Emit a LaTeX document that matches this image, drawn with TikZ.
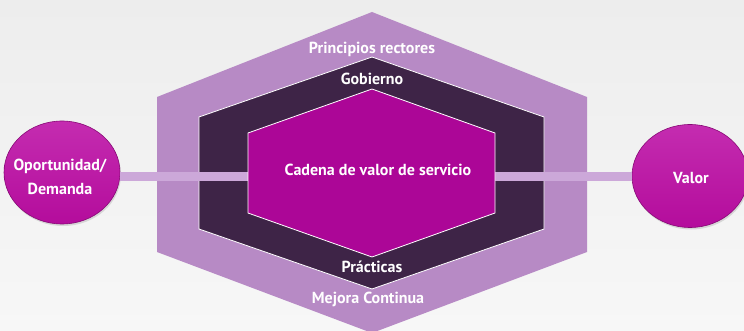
\documentclass[tikz,border=0pt]{standalone}
\usepackage{fontspec}
\setmainfont{PT Sans}
\usetikzlibrary{shadows,shapes.geometric}
\definecolor{bgtop}{HTML}{EDEDED}
\definecolor{bgbot}{HTML}{F7F7F7}
\definecolor{outerc}{HTML}{B78AC5}
\definecolor{midc}{HTML}{3E2447}
\definecolor{innerc}{HTML}{AC0697}
\definecolor{linkc}{HTML}{CCA8D9}
\definecolor{balltop}{HTML}{C42CB0}
\definecolor{ballbot}{HTML}{B40C9C}
\tikzset{
  lbl/.style={text=white, font=\bfseries\fontsize{16}{18}\selectfont, inner sep=0pt},
  ball/.style={ellipse, minimum width=116pt, minimum height=103pt, inner sep=0pt,
    top color=balltop, bottom color=ballbot, draw=ballbot!75!black, line width=0.6pt,
    drop shadow={opacity=0.25, shadow xshift=1pt, shadow yshift=-2pt}},
  balltext/.style={text=white, align=center, inner sep=0pt,
    font=\bfseries\fontsize{16}{24}\selectfont},
  link/.style={draw=linkc, line width=9pt},
  hexedge/.style={draw=white, line width=0.8pt},
}
\begin{document}
\begin{tikzpicture}[x=1pt,y=-1pt]
\useasboundingbox (0,0) rectangle (744,331);
\shade[top color=bgtop, bottom color=bgbot] (0,0) rectangle (744,331);
% circles
\node[ball] (opp) at (62,172.5) {};
\node[balltext] (oppt) at (60,177) {Oportunidad/\\Demanda};
\node[ball] (val) at (690,176) {};
\node[balltext] (valt) at (691,178) {Valor};
% outer hexagon
\fill[outerc] (157,97) -- (372,12) -- (587,97) -- (587,252) -- (372,333) -- (157,252) -- cycle;
% middle hexagon
\fill[midc, hexedge] (199,117) -- (372,57) -- (544,117) -- (544,229) -- (372,289) -- (199,229) -- cycle;
% connector coordinates
\coordinate (inL) at (248,176.5);
\coordinate (inR) at (495,176.5);
\draw[link] (opp.east |- inL) -- (inL);
\draw[link] (inR) -- (val.west |- inR);
% inner hexagon
\fill[innerc, hexedge] (248,133) -- (372,89) -- (495,133) -- (495,213) -- (372,257) -- (248,213) -- cycle;
% labels
\node[lbl] (pr) at (372,49) {Principios rectores};
\node[lbl] (gob) at (372,79) {Gobierno};
\node[lbl] (cad) at (378,170) {Cadena de valor de servicio};
\node[lbl] (pra) at (372,267) {Prácticas};
\node[lbl] (mej) at (368,299) {Mejora Continua};
\end{tikzpicture}
\end{document}
